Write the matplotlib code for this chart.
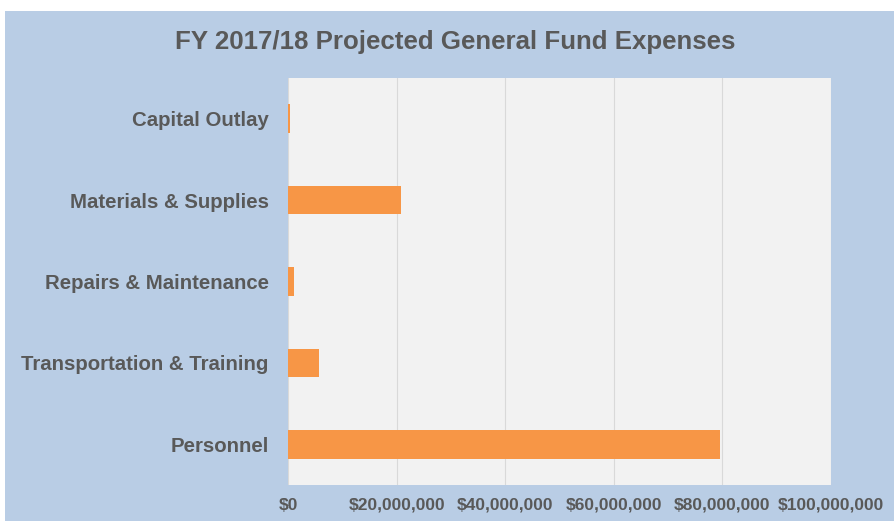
import matplotlib.pyplot as plt
from matplotlib.patches import Rectangle
from matplotlib.ticker import FuncFormatter

# datos (de arriba hacia abajo)
categorias = ['Capital Outlay', 'Materials & Supplies', 'Repairs & Maintenance',
              'Transportation & Training', 'Personnel']
gastos = [400000, 20800000, 1100000, 5700000, 79500000]

azul = '#b9cde5'
gris = '#595959'
naranja = '#f79646'

plt.rcParams['font.family'] = ['Liberation Sans', 'DejaVu Sans']

fig = plt.figure(figsize=(8.94, 5.23), dpi=100, facecolor='white')
# fondo azul del grafico (deja una franja blanca arriba y a la izquierda)
fig.patches.append(Rectangle((5 / 894, 0.004), 889 / 894, (523 - 11) / 523 - 0.004,
                             transform=fig.transFigure, facecolor=azul,
                             edgecolor='none', zorder=-1))

ax = fig.add_axes([288 / 894, 1 - 485 / 523, (831 - 288) / 894, (485 - 78) / 523])
ax.set_facecolor('#f2f2f2')

y = list(range(len(categorias)))
ax.barh(y, gastos, height=0.35, color=naranja, zorder=3)
ax.set_yticks(y)
ax.set_yticklabels(categorias)
ax.set_ylim(len(categorias) - 0.5, -0.5)

ax.set_xlim(0, 100000000)
ax.set_xticks(range(0, 100000001, 20000000))
ax.xaxis.set_major_formatter(FuncFormatter(lambda v, p: '${:,.0f}'.format(v)))
ax.grid(axis='x', color='#d9d9d9', linewidth=0.8, zorder=0)

for s in ax.spines.values():
    s.set_visible(False)
ax.tick_params(axis='both', length=0, colors=gris)
ax.tick_params(axis='y', pad=14, labelsize=14.7)
ax.tick_params(axis='x', pad=9, labelsize=12.5)
for t in ax.get_yticklabels() + ax.get_xticklabels():
    t.set_fontweight('bold')

fig.text(455 / 894, 1 - 42 / 523, 'FY 2017/18 Projected General Fund Expenses',
         ha='center', va='center', fontsize=18.6, fontweight='bold', color=gris)

fig.savefig('out.png', dpi=100, facecolor='white')
